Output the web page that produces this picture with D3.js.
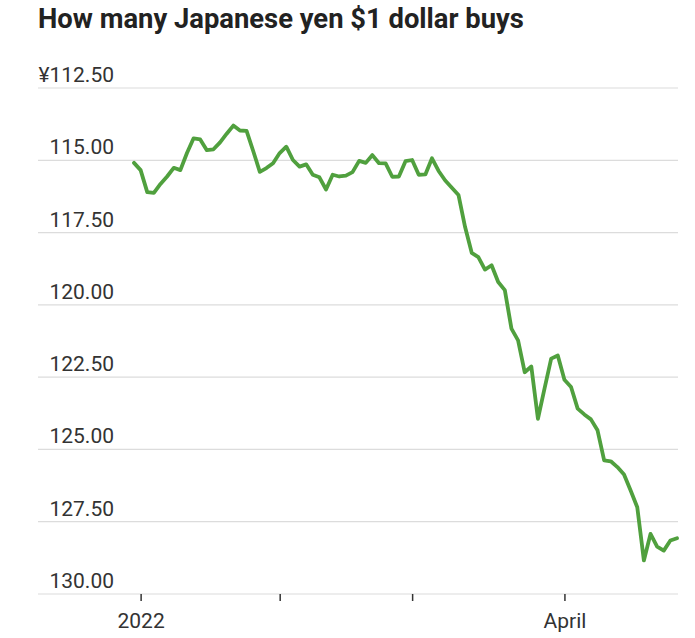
<!DOCTYPE html>
<html>
<head>
<meta charset="utf-8">
<script src="https://cdn.jsdelivr.net/npm/d3@7"></script>
<style>
  html, body { margin: 0; padding: 0; background: #fff; }
  svg { display: block; }
</style>
</head>
<body>
<svg id="chart" width="695" height="638"></svg>
<script>
const title = "How many Japanese yen $1 dollar buys";

const dates = [
  "2021-12-31",
  "2022-01-03","2022-01-04","2022-01-05","2022-01-06","2022-01-07",
  "2022-01-10","2022-01-11","2022-01-12","2022-01-13","2022-01-14",
  "2022-01-17","2022-01-18","2022-01-19","2022-01-20","2022-01-21",
  "2022-01-24","2022-01-25","2022-01-26","2022-01-27","2022-01-28",
  "2022-01-31",
  "2022-02-01","2022-02-02","2022-02-03","2022-02-04",
  "2022-02-07","2022-02-08","2022-02-09","2022-02-10","2022-02-11",
  "2022-02-14","2022-02-15","2022-02-16","2022-02-17","2022-02-18",
  "2022-02-21","2022-02-22","2022-02-23","2022-02-24","2022-02-25",
  "2022-02-28",
  "2022-03-01","2022-03-02","2022-03-03","2022-03-04",
  "2022-03-07","2022-03-08","2022-03-09","2022-03-10","2022-03-11",
  "2022-03-14","2022-03-15","2022-03-16","2022-03-17","2022-03-18",
  "2022-03-21","2022-03-22","2022-03-23","2022-03-24","2022-03-25",
  "2022-03-28","2022-03-29","2022-03-30","2022-03-31",
  "2022-04-01",
  "2022-04-04","2022-04-05","2022-04-06","2022-04-07","2022-04-08",
  "2022-04-11","2022-04-12","2022-04-13","2022-04-14","2022-04-15",
  "2022-04-18","2022-04-19","2022-04-20","2022-04-21","2022-04-22",
  "2022-04-25","2022-04-26"
];

const yenPerDollar = [
  115.09, 115.34, 116.10, 116.13, 115.82, 115.56, 115.26, 115.34, 114.75, 114.24,
  114.28, 114.65, 114.62, 114.38, 114.08, 113.80, 113.97, 113.98, 114.68, 115.40,
  115.27, 115.10, 114.75, 114.53, 114.99, 115.22, 115.14, 115.50, 115.59, 116.01,
  115.50, 115.56, 115.53, 115.41, 115.02, 115.09, 114.82, 115.10, 115.11, 115.57,
  115.56, 115.03, 114.99, 115.50, 115.49, 114.93, 115.37, 115.70, 115.95, 116.20,
  117.31, 118.20, 118.35, 118.78, 118.63, 119.21, 119.49, 120.82, 121.23, 122.33,
  122.13, 123.94, 122.89, 121.86, 121.75, 122.59, 122.84, 123.59, 123.79, 123.96,
  124.34, 125.38, 125.41, 125.61, 125.87, 126.42, 127.00, 128.84, 127.92, 128.36,
  128.50, 128.15, 128.07
];

const yTicks = [112.5, 115, 117.5, 120, 122.5, 125, 127.5, 130];
const yTickLabels = ["¥112.50", "115.00", "117.50", "120.00", "122.50", "125.00", "127.50", "130.00"];

const xTicks = ["2022-01-03", "2022-02-01", "2022-03-01", "2022-04-01"];
const xTickLabels = ["2022", "", "", "April"];

const svg = d3.select("#chart");
const font = "Roboto, 'Noto Sans', sans-serif";

// Scales
const x = d3.scalePoint().domain(dates).range([134, 677]);
const y = d3.scaleLinear().domain([112.5, 130]).range([88, 594]);

const gridLeft = 38, gridRight = 678;

// Title
const t = svg.append("text")
  .attr("x", 38).attr("y", 28)
  .attr("font-family", font)
  .attr("font-weight", 700)
  .attr("font-size", 24)
  .attr("fill", "#222")
  .text(title);
const tw = t.node().getComputedTextLength();
if (tw > 0) t.attr("font-size", 24 * 486 / tw);

// Gridlines
svg.append("g").selectAll("line")
  .data(yTicks)
  .join("line")
  .attr("x1", gridLeft).attr("x2", gridRight)
  .attr("y1", d => y(d)).attr("y2", d => y(d))
  .attr("stroke", "#dcdcdc")
  .attr("stroke-width", 1.2);

// Y labels
svg.append("g").selectAll("text")
  .data(yTicks)
  .join("text")
  .attr("x", 114)
  .attr("y", d => y(d) - 6)
  .attr("text-anchor", "end")
  .attr("font-family", font)
  .attr("font-size", 21)
  .attr("fill", "#333")
  .text((d, i) => yTickLabels[i]);

// X axis
const xAxis = d3.axisBottom(x)
  .tickValues(xTicks)
  .tickSize(7)
  .tickPadding(12)
  .tickFormat((d, i) => xTickLabels[i]);

const gx = svg.append("g")
  .attr("transform", `translate(0,${y(130)})`)
  .call(xAxis);
gx.select(".domain").remove();
gx.selectAll(".tick line").attr("stroke", "#333").attr("stroke-width", 1.5);
gx.selectAll(".tick text")
  .attr("font-family", font)
  .attr("font-size", 21)
  .attr("fill", "#333");

// Line
const line = d3.line()
  .x((d, i) => x(dates[i]))
  .y(d => y(d));

svg.append("path")
  .datum(yenPerDollar)
  .attr("d", line)
  .attr("fill", "none")
  .attr("stroke", "#50a03e")
  .attr("stroke-width", 3.8)
  .attr("stroke-linejoin", "round")
  .attr("stroke-linecap", "round");
</script>
</body>
</html>
